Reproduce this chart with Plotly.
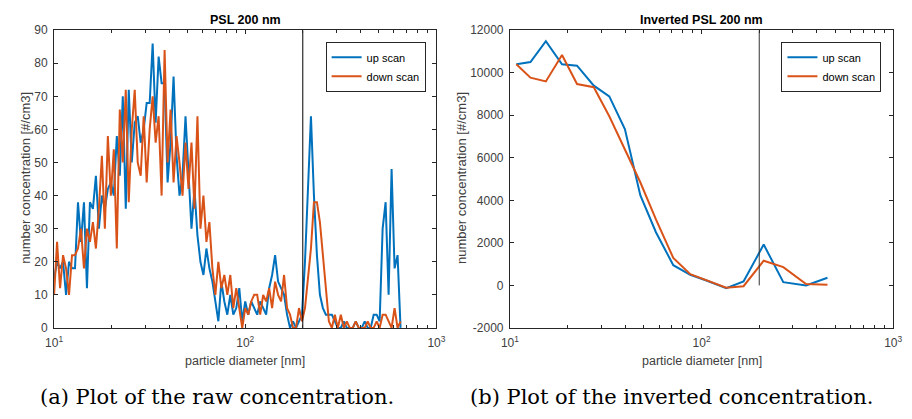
import numpy as np
import plotly.graph_objects as go

# ---------------- data ----------------
# raw scan: instrument channels, 64 per decade starting at 10 nm
n_channels = 117
channels_per_decade = 64
raw_diameter = np.round(10 ** (1 + np.arange(n_channels) / channels_per_decade), 3)

raw_up = [15, 20, 18, 20, 10, 20, 18, 18, 38, 26, 38, 12, 38, 36, 46, 30, 40, 36, 42, 44,
          40, 58, 46, 70, 36, 72, 50, 62, 64, 56, 60, 68, 68, 86, 62, 82, 74, 74, 44, 56,
          76, 52, 40, 46, 64, 48, 30, 42, 28, 20, 16, 24, 18, 14, 8, 2, 14, 8, 4, 10,
          4, 6, 12, 2, 8, 4, 8, 6, 4, 8, 6, 4, 12, 16, 22, 14, 12, 10, 4, 0,
          2, 0, 2, 4, 20, 40, 64, 40, 22, 10, 6, 4, 4, 4, 2, 0, 0, 2, 0, 0,
          0, 2, 0, 0, 2, 0, 0, 4, 4, 2, 30, 38, 10, 48, 18, 22, 0]

raw_down = [10, 26, 12, 22, 18, 10, 22, 22, 24, 30, 18, 30, 26, 32, 24, 36, 52, 30, 58, 40,
            54, 24, 66, 50, 72, 38, 60, 72, 50, 46, 64, 44, 60, 70, 56, 64, 40, 84, 50, 66,
            44, 58, 50, 40, 56, 42, 56, 36, 64, 30, 40, 26, 32, 18, 10, 20, 12, 16, 10, 16,
            6, 12, 6, 0, 6, 4, 8, 10, 10, 4, 10, 8, 12, 6, 14, 10, 8, 16, 6, 4,
            0, 0, 6, 2, 6, 16, 24, 38, 38, 32, 22, 10, 2, 0, 4, 0, 4, 0, 2, 0,
            0, 2, 0, 0, 0, 2, 0, 0, 2, 0, 4, 4, 2, 0, 6, 0, 2]

inv_diameter = [10.8, 12.8, 15.4, 18.7, 22.4, 27.4, 33.0, 39.8, 47.9, 57.8, 71.2, 87.3,
                106, 134.6, 165.6, 211, 267, 351, 454]
inv_up = [10400, 10500, 11480, 10400, 10330, 9390, 8890, 7350, 4240, 2500, 950, 500,
          230, -130, 180, 1920, 150, 0, 360]
inv_down = [10400, 9770, 9590, 10830, 9470, 9320, 7950, 6430, 4850, 3100, 1290, 530,
            250, -110, -40, 1160, 860, 60, 30]

psl_size = 200
raw_vline_y = [0, 90]
inv_vline_y = [0, 12000]

raw_yticks = [0, 10, 20, 30, 40, 50, 60, 70, 80, 90]
inv_yticks = [-2000, 0, 2000, 4000, 6000, 8000, 10000, 12000]
inv_yticktext = ["-2000", "0", "2000", "4000", "6000", "8000", "10000", "12000"]
x_ticks = [10, 100, 1000]
x_ticktext = ["10<sup>1</sup>", "10<sup>2</sup>", "10<sup>3</sup>"]

titles = ["PSL 200 nm", "Inverted PSL 200 nm"]
captions = ["(a) Plot of the raw concentration.", "(b) Plot of the inverted concentration."]
series_names = ["up scan", "down scan"]
xlabel = "particle diameter [nm]"
ylabel = "number concentration [#/cm3]"

# ---------------- style ----------------
BLUE = "#0072BD"
ORANGE = "#D95319"
AXC = "#262626"
LBL = "#404040"
FONT = "Liberation Sans"
W, H = 912, 419

def px_x(p):
    return p / W

def px_y(p):
    return 1 - p / H

top, bottom = 24, 332
dom_left = [px_x(46), px_x(436)]
dom_right = [px_x(511), px_x(902)]
dom_y = [px_y(bottom), px_y(top)]

fig = go.Figure()

fig.add_trace(go.Scatter(x=raw_diameter, y=raw_up, mode="lines", name=series_names[0],
                         line=dict(color=BLUE, width=2), xaxis="x", yaxis="y", legend="legend"))
fig.add_trace(go.Scatter(x=raw_diameter, y=raw_down, mode="lines", name=series_names[1],
                         line=dict(color=ORANGE, width=2), xaxis="x", yaxis="y", legend="legend"))
fig.add_trace(go.Scatter(x=[psl_size, psl_size], y=raw_vline_y, mode="lines", showlegend=False,
                         line=dict(color="black", width=1), xaxis="x", yaxis="y", hoverinfo="skip"))

fig.add_trace(go.Scatter(x=inv_diameter, y=inv_up, mode="lines", name=series_names[0],
                         line=dict(color=BLUE, width=2), xaxis="x2", yaxis="y2", legend="legend2"))
fig.add_trace(go.Scatter(x=inv_diameter, y=inv_down, mode="lines", name=series_names[1],
                         line=dict(color=ORANGE, width=2), xaxis="x2", yaxis="y2", legend="legend2"))
fig.add_trace(go.Scatter(x=[psl_size, psl_size], y=inv_vline_y, mode="lines", showlegend=False,
                         line=dict(color="#333333", width=1), xaxis="x2", yaxis="y2", hoverinfo="skip"))

tickfont = dict(family=FONT, size=12, color=LBL)

def xaxis(domain, anchor):
    return dict(domain=domain, anchor=anchor, type="log", range=[1, 3],
                tickvals=x_ticks, ticktext=x_ticktext,
                ticks="inside", ticklen=4, tickcolor=AXC, mirror="ticks",
                showline=True, linecolor=AXC, linewidth=1, showgrid=False, zeroline=False,
                tickfont=tickfont, ticklabelstandoff=4,
                minor=dict(ticks="inside", ticklen=2.5, tickcolor=AXC, showgrid=False,
                           tickvals=[20, 30, 40, 50, 60, 70, 80, 90,
                                     200, 300, 400, 500, 600, 700, 800, 900]))

def yaxis(domain, anchor, rng, vals, text):
    return dict(domain=domain, anchor=anchor, range=rng, tickvals=vals, ticktext=text,
                ticks="inside", ticklen=4, tickcolor=AXC, mirror="ticks",
                showline=True, linecolor=AXC, linewidth=1, showgrid=False, zeroline=False,
                tickfont=tickfont, ticklabelstandoff=3)

legend_common = dict(bgcolor="white", bordercolor=AXC, borderwidth=1,
                     font=dict(family=FONT, size=11, color="black"),
                     xanchor="right", yanchor="top", itemwidth=30, tracegroupgap=0)

fig.update_layout(
    width=W, height=H,
    margin=dict(l=0, r=0, t=0, b=0),
    paper_bgcolor="white", plot_bgcolor="white",
    xaxis=xaxis(dom_left, "y"),
    yaxis=yaxis(dom_y, "x", [0, 90], raw_yticks, [str(v) for v in raw_yticks]),
    xaxis2=xaxis(dom_right, "y2"),
    yaxis2=yaxis(dom_y, "x2", [-2000, 12000], inv_yticks, inv_yticktext),
    legend=dict(x=px_x(425), y=px_y(36), **legend_common),
    legend2=dict(x=px_x(890), y=px_y(36), **legend_common),
    showlegend=True,
)

annotations = []
for i, (dom, cx_left) in enumerate([(dom_left, 16), (dom_right, 461)]):
    cx = (dom[0] + dom[1]) / 2
    annotations.append(dict(text=f"<b>{titles[i]}</b>", x=cx, y=px_y(13), xref="paper", yref="paper",
                            showarrow=False, font=dict(family=FONT, size=12.5, color="black"),
                            xanchor="center", yanchor="middle"))
    annotations.append(dict(text=xlabel, x=cx, y=px_y(366), xref="paper", yref="paper",
                            showarrow=False, font=dict(family=FONT, size=12.5, color=LBL),
                            xanchor="center", yanchor="middle"))
    annotations.append(dict(text=ylabel, x=px_x(cx_left), y=px_y(177), xref="paper", yref="paper",
                            showarrow=False, textangle=-90, font=dict(family=FONT, size=13, color=LBL),
                            xanchor="center", yanchor="middle"))

annotations.append(dict(text=captions[0], x=px_x(30), y=px_y(403), xref="paper", yref="paper",
                        showarrow=False, font=dict(family="DejaVu Serif", size=21, color="black"),
                        xanchor="left", yanchor="middle"))
annotations.append(dict(text=captions[1], x=px_x(468), y=px_y(403), xref="paper", yref="paper",
                        showarrow=False, font=dict(family="DejaVu Serif", size=21, color="black"),
                        xanchor="left", yanchor="middle"))

fig.update_layout(annotations=annotations)

fig.write_html("out.html")
